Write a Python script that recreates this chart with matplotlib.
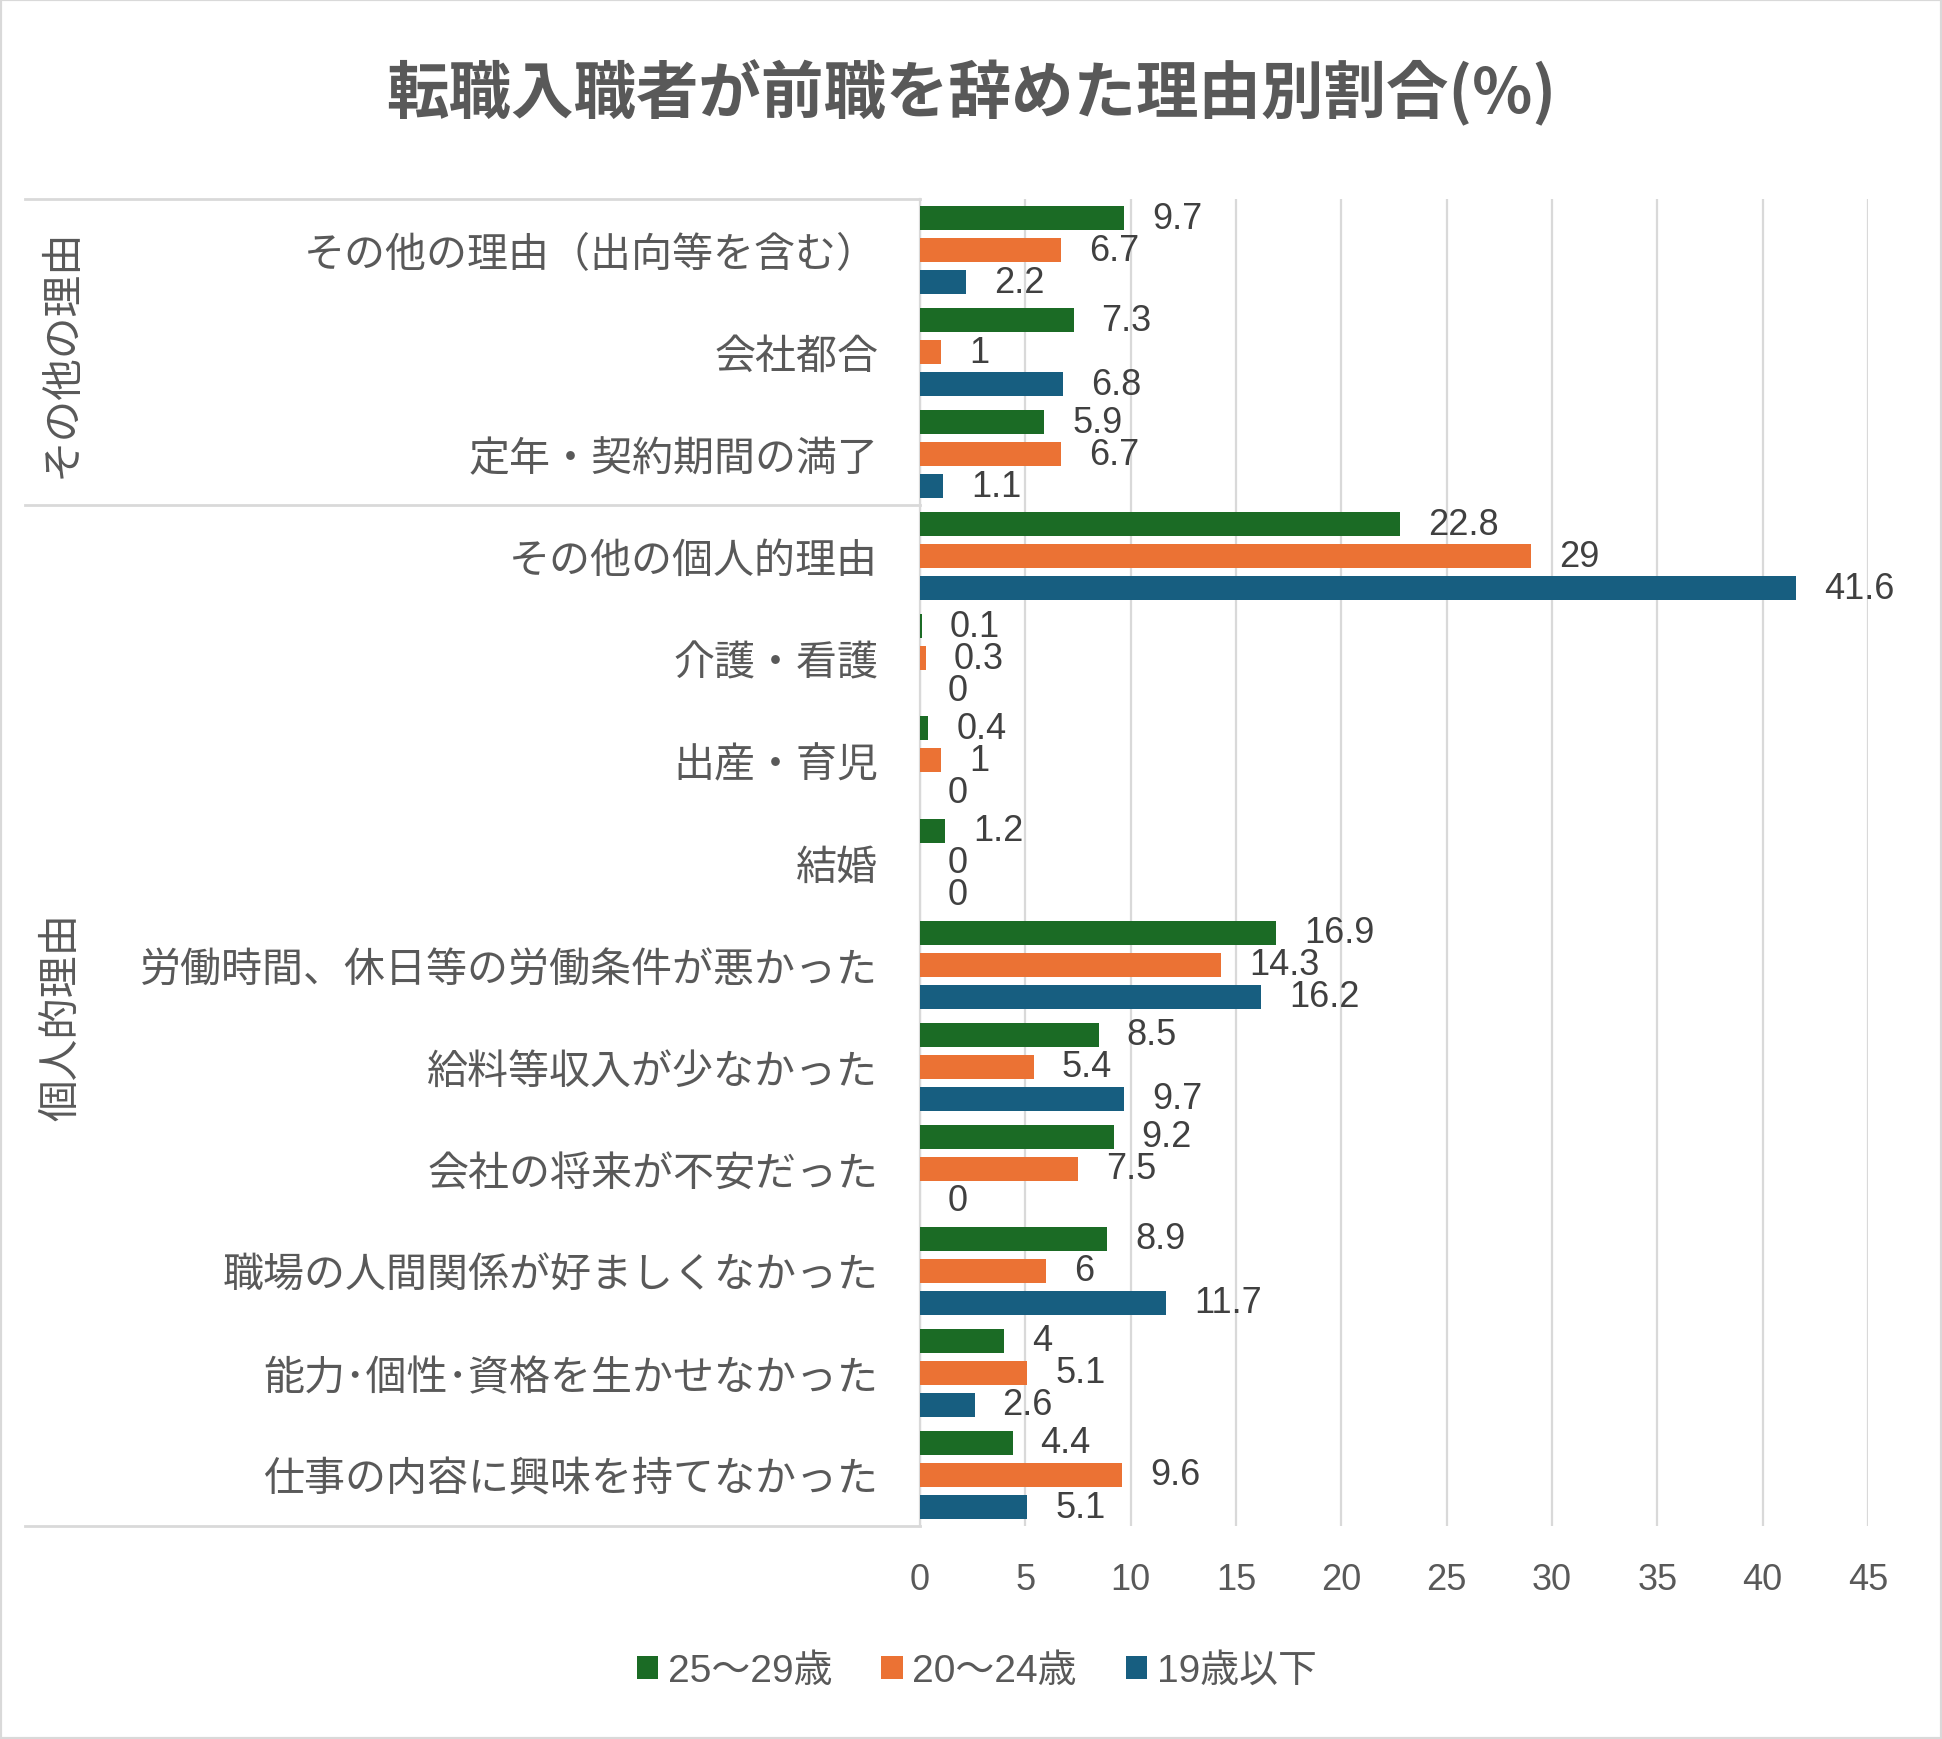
import matplotlib
matplotlib.use("Agg")
import matplotlib.pyplot as plt
import matplotlib.transforms as mtransforms
from matplotlib.lines import Line2D
from matplotlib.patches import Rectangle
import numpy as np

plt.rcParams['font.family'] = ['Noto Sans CJK JP', 'DejaVu Sans']

# data (top to bottom as shown)
categories = ['その他の理由（出向等を含む）', '会社都合', '定年・契約期間の満了',
              'その他の個人的理由', '介護・看護', '出産・育児', '結婚',
              '労働時間、休日等の労働条件が悪かった', '給料等収入が少なかった',
              '会社の将来が不安だった', '職場の人間関係が好ましくなかった',
              '能力･個性･資格を生かせなかった', '仕事の内容に興味を持てなかった']
age_25_29 = [9.7, 7.3, 5.9, 22.8, 0.1, 0.4, 1.2, 16.9, 8.5, 9.2, 8.9, 4, 4.4]
age_20_24 = [6.7, 1, 6.7, 29, 0.3, 1, 0, 14.3, 5.4, 7.5, 6, 5.1, 9.6]
age_19 = [2.2, 6.8, 1.1, 41.6, 0, 0, 0, 16.2, 9.7, 0, 11.7, 2.6, 5.1]
series_names = ['25～29歳', '20～24歳', '19歳以下']
groups = ['その他の理由', '個人的理由']
group_sizes = [3, 10]

colors = ['#1b6b25', '#eb7234', '#175e80']
num_font = ['Liberation Sans', 'Noto Sans CJK JP']
grey = '#595959'
light = '#d9d9d9'

fig = plt.figure(figsize=(19.42, 17.40), dpi=100)
ax = fig.add_axes([0.4737, 0.1224, 0.9619 - 0.4737, 0.885 - 0.1224])

y = np.arange(len(categories))
offsets = [-0.314, 0.0, 0.314]
for vals, off, c, name in zip([age_25_29, age_20_24, age_19], offsets, colors, series_names):
    bars = ax.barh(y + off, vals, height=0.235, color=c, label=name, zorder=3)
    for b, v in zip(bars, vals):
        ax.annotate(f'{v:g}', (v, b.get_y() + b.get_height() / 2),
                    xytext=(20, 0), textcoords='offset points',
                    ha='left', va='center', fontsize=26, color='#404040',
                    family=num_font, zorder=4)

ax.set_xlim(0, 45)
ax.set_ylim(len(categories) - 0.5, -0.5)
ax.set_xticks(np.arange(0, 46, 5))
ax.tick_params(axis='x', length=0, pad=26, labelsize=26, labelcolor=grey)
for lab in ax.get_xticklabels():
    lab.set_family(num_font)
ax.set_yticks(y)
ax.set_yticklabels(categories, fontsize=29.5, color=grey)
ax.tick_params(axis='y', length=0, pad=30)
ax.grid(axis='x', color=light, linewidth=1.6, zorder=0)
for s in ['top', 'right', 'bottom']:
    ax.spines[s].set_visible(False)
ax.spines['left'].set_color(light)
ax.spines['left'].set_linewidth(1.6)

# group brackets: lines and vertical labels
trans = mtransforms.blended_transform_factory(fig.transFigure, ax.transData)
x0 = 25 / 1942
x1 = ax.get_position().x0
edges = np.cumsum([0] + group_sizes) - 0.5
for e in edges:
    ax.add_line(Line2D([x0, x1], [e, e], transform=trans, color=light,
                       linewidth=2, clip_on=False))
for g, lo, hi in zip(groups, edges[:-1], edges[1:]):
    ax.text(62 / 1942, (lo + hi) / 2, g, transform=trans, rotation=90,
            ha='center', va='center', fontsize=30, color=grey)

fig.suptitle('転職入職者が前職を辞めた理由別割合(%)', x=0.5, y=1 - 93 / 1740,
             va='center', fontsize=45, fontweight='bold', color=grey)

fig.legend(loc='center', bbox_to_anchor=(0.503, 1 - 1672 / 1740), ncol=3,
           frameon=False, handlelength=0.55, handleheight=0.55, handletextpad=0.25,
           columnspacing=1.25, prop={'family': num_font, 'size': 28},
           labelcolor=grey)

fig.patches.append(Rectangle((0, 0), 1, 1, transform=fig.transFigure, fill=False,
                             edgecolor=light, linewidth=3))

fig.savefig('out.png', dpi=100, facecolor='white')
